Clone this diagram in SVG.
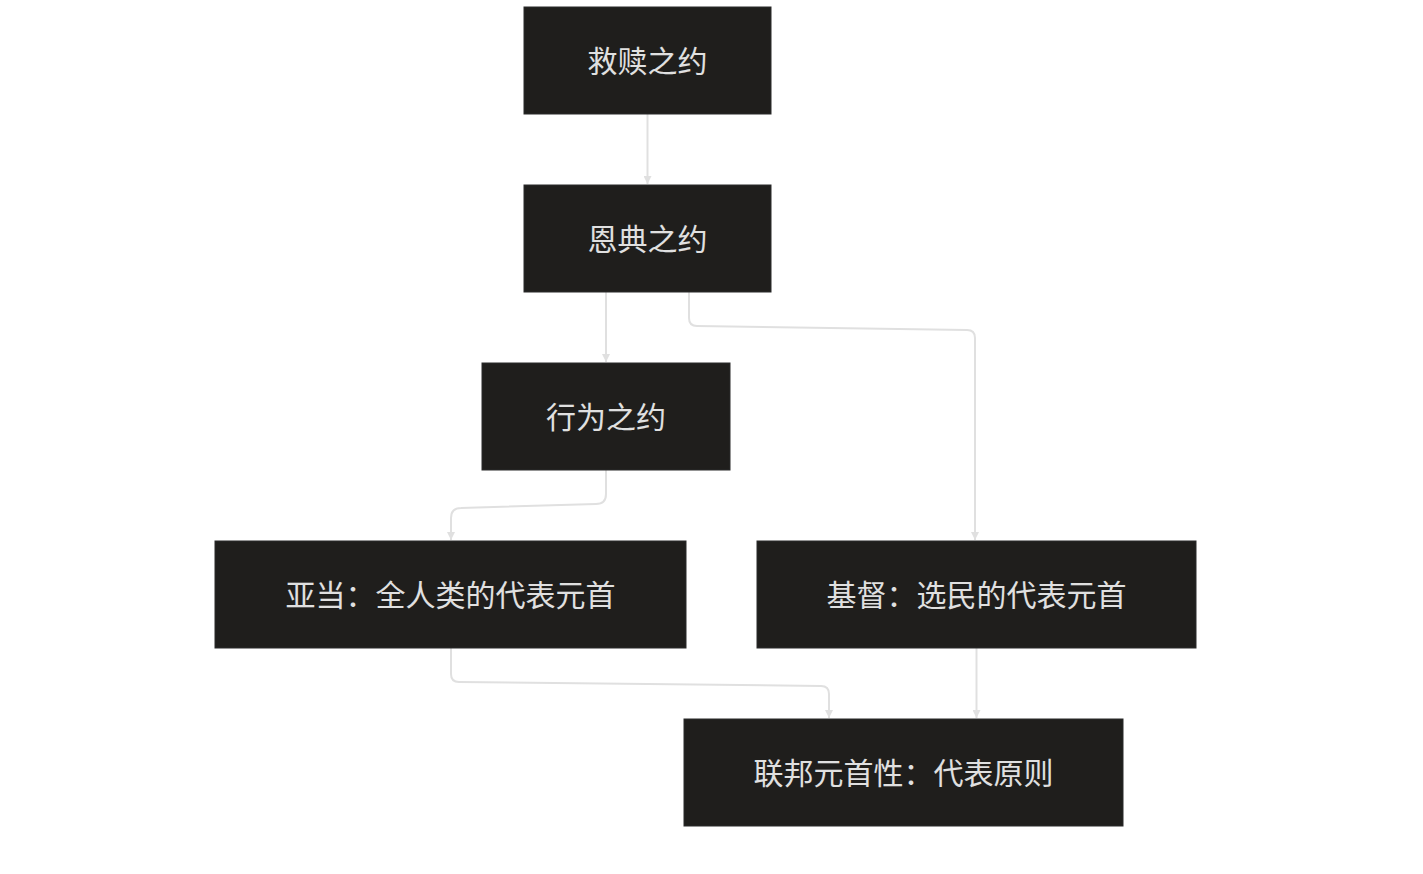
<svg xmlns="http://www.w3.org/2000/svg" width="1423" height="874" viewBox="0 0 1423 874">
<style>
.n rect{fill:#1f1e1c;stroke:#2a2a2a;stroke-width:1}
.n text{fill:#e0e0e0;font-family:"Liberation Sans","Noto Sans CJK SC",sans-serif;font-size:30px;text-anchor:middle;dominant-baseline:central}
.e path{fill:none;stroke:#e0e0e0;stroke-width:2}
</style>
<defs><marker id="a" viewBox="0 0 10 10" refX="10" refY="5" markerWidth="8" markerHeight="8" markerUnits="userSpaceOnUse" orient="auto"><path d="M0,0L10,5L0,10z" fill="#e0e0e0"/></marker></defs>
<rect width="1423" height="874" fill="#fff"/>
<g class="e">
<path d="M647.5,114V184" marker-end="url(#a)" style="marker-end:url(#a)"/>
<path d="M606,292V362" marker-end="url(#a)"/>
<path d="M689,292V318Q689,326 697,326L967,330Q975,330 975,338V540" marker-end="url(#a)"/>
<path d="M606,470V494Q606,504 596,504L461,508Q451,508 451,518V540" marker-end="url(#a)"/>
<path d="M451,648V674Q451,682 459,682L821,686Q829,686 829,694V718" marker-end="url(#a)"/>
<path d="M976.5,648V718" marker-end="url(#a)"/>
</g>
<g id="n1" class="n"><rect x="524" y="7" width="247" height="107"/><text x="647.5" y="61">救赎之约</text></g>
<g id="n2" class="n"><rect x="524" y="185" width="247" height="107"/><text x="647.5" y="239">恩典之约</text></g>
<g id="n3" class="n"><rect x="482" y="363" width="248" height="107"/><text x="606" y="417">行为之约</text></g>
<g id="n4" class="n"><rect x="215" y="541" width="471" height="107"/><text x="450.5" y="595">亚当：全人类的代表元首</text></g>
<g id="n5" class="n"><rect x="757" y="541" width="439" height="107"/><text x="976.5" y="595">基督：选民的代表元首</text></g>
<g id="n6" class="n"><rect x="684" y="719" width="439" height="107"/><text x="903.5" y="773">联邦元首性：代表原则</text></g>
</svg>
